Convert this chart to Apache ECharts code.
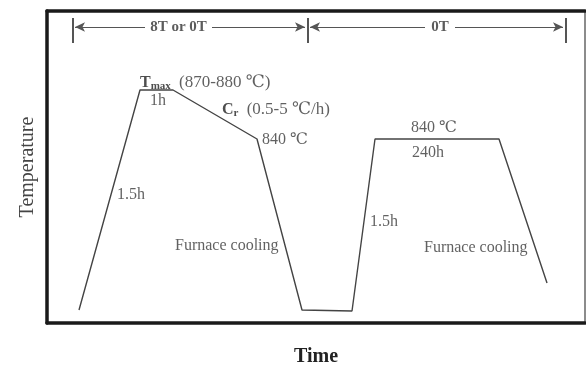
<!DOCTYPE html>
<html>
<head>
<meta charset="utf-8">
<script src="https://cdn.jsdelivr.net/npm/echarts@6/dist/echarts.min.js"></script>
<style>
  html, body { margin: 0; padding: 0; background: #fff; }
  #chart { width: 586px; height: 367px; }
</style>
</head>
<body>
<div id="chart"></div>
<script>
// Heat-treatment schedule, in schematic time / temperature units (not to scale)
const scheduleTime = [32, 93, 126, 210, 255, 305, 328, 452, 500];
const scheduleTemp = [13, 233, 233, 184, 13, 12, 184, 184, 40];

// Stage notes written beside the curve
const noteTexts = [
  '{b|T}{s|max}{w| (870-880 ℃)}',
  '{n|1h}',
  '{b|C}{s|r}{w| (0.5-5 ℃/h)}',
  '{n|840 ℃}',
  '{n|1.5h}',
  '{n|Furnace cooling}',
  '{n|840 ℃}',
  '{n|240h}',
  '{n|1.5h}',
  '{n|Furnace cooling}'
];
const noteTime = [93, 103, 175, 215, 70, 128, 364, 365, 323, 377];
const noteTemp = [240, 222, 213, 183, 128, 77, 195, 170, 101, 75];

// Duration brackets above the curve
const spanLabels = ['8T or 0T', '0T'];
const spanEdges = [26, 261, 519];

const SERIF = '"Liberation Serif", "DejaVu Serif", "Noto Sans CJK SC", serif';
const INK = '#3a3a3a';

const chart = echarts.init(document.getElementById('chart'), null, { renderer: 'canvas' });

const curve = scheduleTime.map((t, i) => [t, scheduleTemp[i]]);
const notes = noteTexts.map((txt, i) => ({ value: [noteTime[i], noteTemp[i]], txt }));

// Bracket layout: arrow shafts on either side of each label, plus end bars
const arrowY = 296;
const barTop = 305, barBottom = 280;
const spanGaps = [[98, 165], [378, 408]];
const spanLines = [];
spanEdges.forEach(x => {
  spanLines.push([{ coord: [x, barTop], symbol: 'none' }, { coord: [x, barBottom], symbol: 'none', lineStyle: { width: 2 } }]);
});
for (let k = 0; k < spanLabels.length; k++) {
  const a = spanEdges[k] + 2, b = spanEdges[k + 1] - 3;
  spanLines.push([{ coord: [a, arrowY], symbol: 'arrow' }, { coord: [spanGaps[k][0], arrowY], symbol: 'none' }]);
  spanLines.push([{ coord: [spanGaps[k][1], arrowY], symbol: 'none' }, { coord: [b, arrowY], symbol: 'arrow' }]);
}
const spanTextData = spanLabels.map((s, k) => ({
  value: [(spanGaps[k][0] + spanGaps[k][1]) / 2, arrowY], txt: s
}));

const hiddenAxis = {
  type: 'value', min: 0,
  axisTick: { show: false }, axisLabel: { show: false }, splitLine: { show: false }
};

chart.setOption({
  animation: false,
  backgroundColor: '#ffffff',
  grid: { left: 47, right: 1, top: 11, bottom: 44, outerBoundsMode: 'none', containLabel: false },
  xAxis: [
    Object.assign({}, hiddenAxis, {
      max: 538, position: 'bottom',
      name: 'Time', nameLocation: 'middle', nameGap: 24,
      nameTextStyle: { fontFamily: SERIF, fontSize: 20, fontWeight: 'bold', color: '#222' },
      axisLine: { onZero: false, lineStyle: { color: '#1a1a1a', width: 3.5 } }
    }),
    Object.assign({}, hiddenAxis, {
      max: 538, position: 'top',
      axisLine: { onZero: false, lineStyle: { color: '#1a1a1a', width: 3.5 } }
    })
  ],
  yAxis: [
    Object.assign({}, hiddenAxis, {
      max: 312, position: 'left',
      name: 'Temperature', nameLocation: 'middle', nameGap: 9,
      nameTextStyle: { fontFamily: SERIF, fontSize: 20, color: '#444' },
      axisLine: { onZero: false, lineStyle: { color: '#1a1a1a', width: 3.5 } }
    }),
    Object.assign({}, hiddenAxis, {
      max: 312, position: 'right',
      axisLine: { onZero: false, lineStyle: { color: '#666', width: 1.5 } }
    })
  ],
  series: [
    {
      type: 'line',
      data: curve,
      showSymbol: false,
      lineStyle: { color: '#444', width: 1.4 },
      z: 3,
      markLine: {
        silent: true,
        symbolSize: [7, 10],
        lineStyle: { color: '#555', width: 1, type: 'solid' },
        label: { show: false },
        data: spanLines
      }
    },
    {
      type: 'scatter',
      data: notes,
      symbolSize: 0,
      z: 4,
      label: {
        show: true,
        position: 'right',
        distance: 0,
        formatter: p => p.data.txt,
        rich: {
          n: { fontFamily: SERIF, fontSize: 16, color: INK },
          w: { fontFamily: SERIF, fontSize: 17, color: INK, padding: [0, 0, 0, 4] },
          b: { fontFamily: SERIF, fontSize: 16, fontWeight: 'bold', color: '#222' },
          s: { fontFamily: SERIF, fontSize: 11, fontWeight: 'bold', color: '#222', verticalAlign: 'bottom', padding: [6, 0, 0, 0] }
        }
      }
    },
    {
      type: 'scatter',
      data: spanTextData,
      symbolSize: 0,
      z: 4,
      label: {
        show: true,
        position: 'inside',
        formatter: p => p.data.txt,
        fontFamily: SERIF, fontSize: 15, fontWeight: 'bold', color: '#333'
      }
    }
  ]
});
</script>
</body>
</html>
